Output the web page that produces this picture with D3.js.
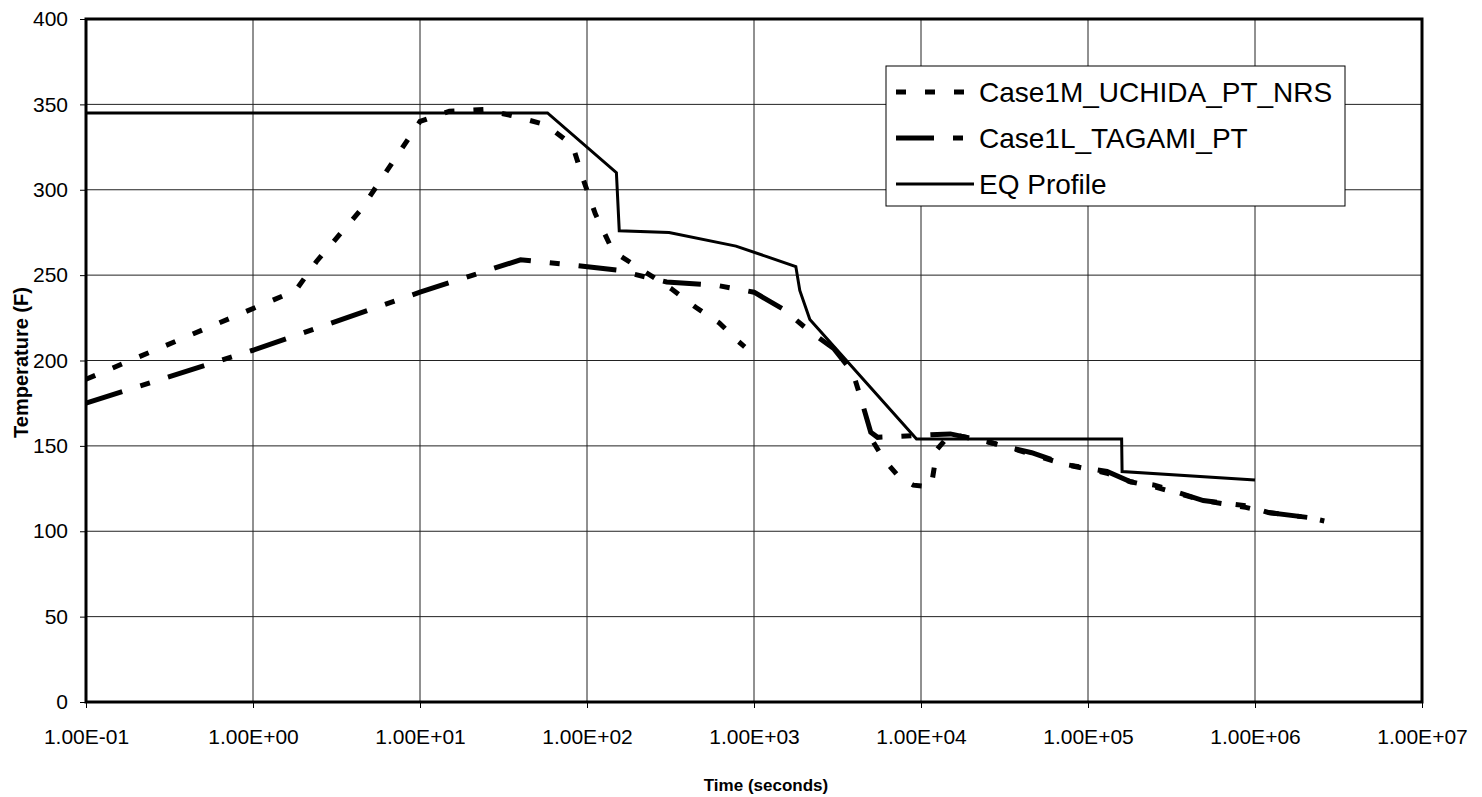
<!DOCTYPE html>
<html>
<head>
<meta charset="utf-8">
<script src="https://cdn.jsdelivr.net/npm/d3@7"></script>
<style>
  body { margin: 0; background: #fff; }
  svg text { font-family: "Liberation Sans", Arial, sans-serif; fill: #000; }
</style>
</head>
<body>
<div id="chart"></div>
<script>
// series values: [time (s), temperature (F)]
// null temperature = gap in the series
const uchida = [
    [0.1, 189], [1.8, 241], [2.4, 258], [4.4, 288], [10, 340], [15, 346], [24, 347],
    [37, 343], [57, 338], [82, 326], [95, 306], [112, 286], [143, 264], [320, 242],
    [450, 231], [620, 222], [810, 211], [880, 208],
    [900, null],
    [5200, 152], [6000, 142], [7500, 131], [9000, 127], [11500, 126], [12500, 148],
    [15000, 157], [26000, 152], [34000, 149], [46000, 145], [74000, 139], [130000, 134],
    [180000, 129], [250000, 126], [490000, 118], [880000, 114], [1200000, 111],
    [2100000, 108], [2600000, 106]
];
const tagami = [
    [0.1, 175], [1, 206], [10, 240], [40, 259], [80, 256], [150, 253], [300, 246],
    [600, 244], [1000, 240], [1500, 230], [2100, 218], [3000, 207], [3900, 193],
    [4300, 180], [5000, 158], [5500, 155], [15000, 157], [26000, 152], [34000, 149],
    [46000, 146], [74000, 139], [130000, 135], [180000, 129], [250000, 127],
    [490000, 118], [880000, 115], [1200000, 111], [2100000, 108], [2600000, 106]
];
const eqProfile = [
    [0.1, 345], [58, 345], [150, 310], [156, 276], [310, 275], [780, 267],
    [1780, 255], [1880, 241], [2160, 224], [9400, 154], [159000, 154],
    [160000, 135], [1000000, 130]
];

const xTicks = [1e-1, 1e0, 1e1, 1e2, 1e3, 1e4, 1e5, 1e6, 1e7];
const yTicks = [0, 50, 100, 150, 200, 250, 300, 350, 400];
const seriesNames = ["Case1M_UCHIDA_PT_NRS", "Case1L_TAGAMI_PT", "EQ Profile"];

const width = 1482, height = 797;
const plot = { left: 86, right: 1422, top: 19, bottom: 702 };

const svg = d3.select("#chart")
    .append("svg")
    .attr("width", width)
    .attr("height", height);

const x = d3.scaleLog().domain([1e-1, 1e7]).range([plot.left, plot.right]);
const y = d3.scaleLinear().domain([0, 400]).range([plot.bottom, plot.top]);

function sciLabel(d) {
    const e = Math.round(Math.log10(d));
    return "1.00E" + (e < 0 ? "-" : "+") + String(Math.abs(e)).padStart(2, "0");
}

// grid
const grid = svg.append("g").attr("id", "grid");
grid.selectAll("line.h")
    .data(yTicks)
    .enter()
    .append("line")
    .attr("x1", plot.left).attr("x2", plot.right)
    .attr("y1", d => y(d)).attr("y2", d => y(d))
    .attr("stroke", "#222").attr("stroke-width", 1);
grid.selectAll("line.v")
    .data(xTicks)
    .enter()
    .append("line")
    .attr("y1", plot.top).attr("y2", plot.bottom)
    .attr("x1", d => x(d)).attr("x2", d => x(d))
    .attr("stroke", "#222").attr("stroke-width", 1);

// axes
const xAxis = svg.append("g")
    .attr("transform", `translate(0,${plot.bottom})`)
    .call(d3.axisBottom(x).tickValues(xTicks).tickFormat(sciLabel).tickSize(6).tickPadding(21));
const yAxis = svg.append("g")
    .attr("transform", `translate(${plot.left},0)`)
    .call(d3.axisLeft(y).tickValues(yTicks).tickSize(6).tickPadding(12));

[xAxis, yAxis].forEach(a => {
    a.select(".domain").remove();
    a.selectAll(".tick line").attr("stroke", "#000");
    a.selectAll(".tick text")
        .attr("font-size", 21)
        .attr("font-family", "Liberation Sans, Arial, sans-serif")
        .attr("fill", "#000");
});

// data lines
const line = d3.line()
    .defined(d => d[1] !== null)
    .x(d => x(d[0]))
    .y(d => y(d[1]));

const lines = svg.append("g").attr("id", "lines");
lines.append("path")
    .datum(eqProfile)
    .attr("d", line)
    .attr("fill", "none")
    .attr("stroke", "#000")
    .attr("stroke-width", 3);
lines.append("path")
    .datum(tagami)
    .attr("d", line)
    .attr("fill", "none")
    .attr("stroke", "#000")
    .attr("stroke-width", 5)
    .attr("stroke-dasharray", "38,19,10,19");
lines.append("path")
    .datum(uchida)
    .attr("d", line)
    .attr("fill", "none")
    .attr("stroke", "#000")
    .attr("stroke-width", 5)
    .attr("stroke-dasharray", "10,19");

// plot border
svg.append("rect")
    .attr("x", plot.left).attr("y", plot.top)
    .attr("width", plot.right - plot.left)
    .attr("height", plot.bottom - plot.top)
    .attr("fill", "none")
    .attr("stroke", "#000")
    .attr("stroke-width", 3);

// axis titles
svg.append("text")
    .attr("x", (plot.left + plot.right) / 2 + 12)
    .attr("y", 791)
    .attr("text-anchor", "middle")
    .attr("font-size", 17)
    .attr("font-weight", "bold")
    .text("Time (seconds)");
svg.append("text")
    .attr("transform", `translate(28,${(plot.top + plot.bottom) / 2 + 2}) rotate(-90)`)
    .attr("text-anchor", "middle")
    .attr("font-size", 20)
    .attr("font-weight", "bold")
    .text("Temperature (F)");

// legend
const legend = svg.append("g").attr("id", "legend");
legend.append("rect")
    .attr("x", 886).attr("y", 66)
    .attr("width", 459).attr("height", 140)
    .attr("fill", "#fff")
    .attr("stroke", "#000")
    .attr("stroke-width", 1);
const legendStyles = [
    { dash: "10,19", w: 5 },
    { dash: "38,19,10,19", w: 5 },
    { dash: null, w: 3 }
];
seriesNames.forEach((name, i) => {
    const cy = 92 + i * 46;
    legend.append("line")
        .attr("x1", 896).attr("x2", 974)
        .attr("y1", cy).attr("y2", cy)
        .attr("stroke", "#000")
        .attr("stroke-width", legendStyles[i].w)
        .attr("stroke-dasharray", legendStyles[i].dash);
    legend.append("text")
        .attr("x", 979)
        .attr("y", cy + 10)
        .attr("font-size", 28)
        .text(name);
});
</script>
</body>
</html>
